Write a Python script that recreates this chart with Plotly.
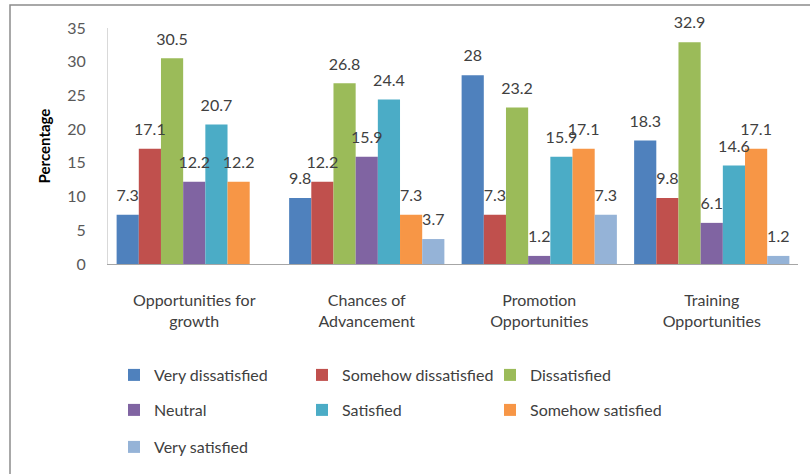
import plotly.graph_objects as go

categories = ["Opportunities for<br>growth", "Chances of<br>Advancement",
              "Promotion<br>Opportunities", "Training<br>Opportunities"]
series_names = ["Very dissatisfied", "Somehow dissatisfied", "Dissatisfied",
                "Neutral", "Satisfied", "Somehow satisfied", "Very satisfied"]
very_dissatisfied = [7.3, 9.8, 28, 18.3]
somehow_dissatisfied = [17.1, 12.2, 7.3, 9.8]
dissatisfied = [30.5, 26.8, 23.2, 32.9]
neutral = [12.2, 15.9, 1.2, 6.1]
satisfied = [20.7, 24.4, 15.9, 14.6]
somehow_satisfied = [12.2, 7.3, 17.1, 17.1]
very_satisfied = [None, 3.7, 7.3, 1.2]
y_ticks = [0, 5, 10, 15, 20, 25, 30, 35]

series_values = [very_dissatisfied, somehow_dissatisfied, dissatisfied,
                 neutral, satisfied, somehow_satisfied, very_satisfied]
colors = ["#4F81BD", "#C0504D", "#9BBB59", "#8064A2", "#4BACC6", "#F79646", "#95B3D7"]
legend_ids = ["legend", "legend", "legend", "legend2", "legend2", "legend2", "legend3"]

W, H = 810, 474
L, R, T, B = 108, 12, 28, 209
PW, PH = W - L - R, H - T - B
FONT = "Lato, 'Open Sans', sans-serif"
TXT = "#404040"


def px_x(px):
    return (px - L) / PW


def px_y(py):
    return (H - B - py) / PH


fig = go.Figure()
for name, vals, col, lg in zip(series_names, series_values, colors, legend_ids):
    fig.add_trace(go.Bar(
        x=categories, y=vals, name=name, marker=dict(color=col, line=dict(width=0)),
        legend=lg,
    ))
for name, vals in zip(series_names, series_values):
    fig.add_trace(go.Scatter(
        x=categories, y=vals, mode="markers+text",
        text=[("" if v is None else f"{v:g}") for v in vals],
        textposition="top center",
        textfont=dict(family=FONT, size=16, color=TXT),
        marker=dict(size=14, opacity=0),
        showlegend=False, hoverinfo="skip", cliponaxis=False,
    ))

legend_common = dict(orientation="h", xanchor="left", yanchor="middle",
                     entrywidth=143, itemwidth=30,
                     font=dict(family=FONT, size=16, color=TXT),
                     bgcolor="rgba(0,0,0,0)", itemclick=False)

fig.update_layout(
    width=W, height=H,
    margin=dict(l=L, r=R, t=T, b=B, pad=0),
    paper_bgcolor="white", plot_bgcolor="white",
    barmode="group", bargap=0.1, bargroupgap=0,
    scattermode="group", scattergap=0.1,
    font=dict(family=FONT, size=16, color=TXT),
    legend=dict(x=px_x(114), y=px_y(375), **legend_common),
    legend2=dict(x=px_x(114), y=px_y(410), **legend_common),
    legend3=dict(x=px_x(114), y=px_y(447), **legend_common),
    xaxis=dict(
        showline=True, linecolor="#A6A6A6", linewidth=1,
        ticks="", showgrid=False, ticklabelstandoff=22,
        tickfont=dict(family=FONT, size=16, color=TXT),
    ),
    yaxis=dict(
        range=[0, 35], tickvals=y_ticks, showline=True, linecolor="#D9D9D9",
        linewidth=1, showgrid=False, zeroline=False, ticks="",
        ticklabelstandoff=18,
        tickfont=dict(family=FONT, size=16, color="#595959"),
        title=dict(text="<b>Percentage</b>", standoff=12,
                   font=dict(family=FONT, size=15, color="#000000")),
    ),
    shapes=[dict(type="rect", xref="paper", yref="paper",
                 x0=px_x(10), x1=px_x(813), y0=px_y(480), y1=px_y(5),
                 line=dict(color="#8C8C8C", width=1.5), fillcolor="rgba(0,0,0,0)",
                 layer="below")],
    showlegend=True,
)

fig.write_html("out.html")
